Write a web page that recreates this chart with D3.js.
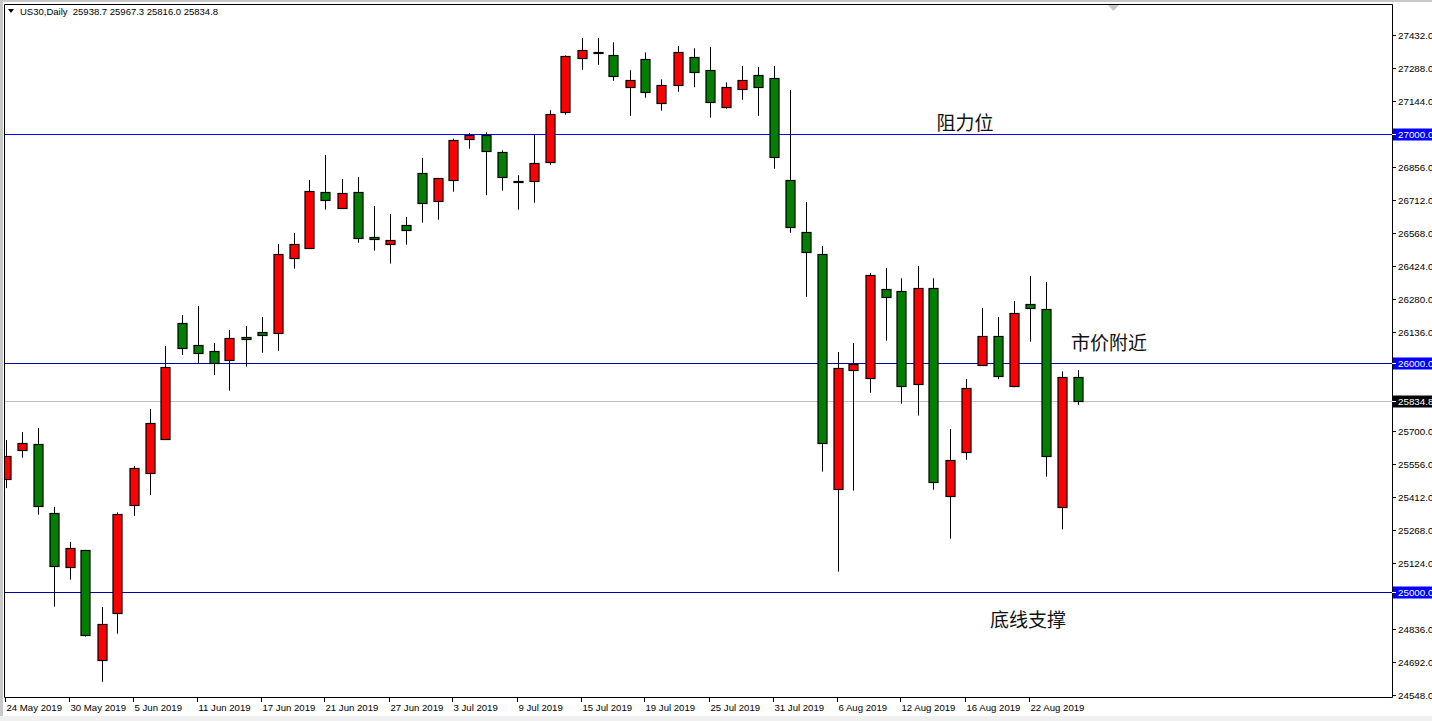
<!DOCTYPE html>
<html>
<head>
<meta charset="utf-8">
<script src="https://cdn.jsdelivr.net/npm/d3@7"></script>
<style>
  html, body { margin: 0; padding: 0; background: #ffffff; }
  svg { display: block; }
</style>
</head>
<body>
<svg id="chart" width="1432" height="721"></svg>
<script>
// ---- data ----
const dates = ["24 May","27 May","28 May","29 May","30 May","31 May","3 Jun","4 Jun","5 Jun","6 Jun","7 Jun","10 Jun","11 Jun","12 Jun","13 Jun","14 Jun","17 Jun","18 Jun","19 Jun","20 Jun","21 Jun","24 Jun","25 Jun","26 Jun","27 Jun","28 Jun","1 Jul","2 Jul","3 Jul","4 Jul","5 Jul","8 Jul","9 Jul","10 Jul","11 Jul","12 Jul","15 Jul","16 Jul","17 Jul","18 Jul","19 Jul","22 Jul","23 Jul","24 Jul","25 Jul","26 Jul","29 Jul","30 Jul","31 Jul","1 Aug","2 Aug","5 Aug","6 Aug","7 Aug","8 Aug","9 Aug","12 Aug","13 Aug","14 Aug","15 Aug","16 Aug","19 Aug","20 Aug","21 Aug","22 Aug","23 Aug","26 Aug","27 Aug"];
const opens  = [25490,25617,25644,25342,25106,25180,24700,24905,25377,25517,25668,26172,26076,26050,26010,26111,26133,26128,26456,26503,26745,26675,26745,26548,26517,26600,26828,26705,26797,26976,26995,26919,26796,26793,26876,27094,27330,27356,27343,27204,27326,27134,27212,27335,27278,27116,27195,27256,27243,26797,26570,26474,25447,25967,25932,26321,26312,25906,26325,25416,25609,25989,26115,25897,26255,26233,25368,25938.7];
const highs  = [25662,25697,25715,25370,25217,25182,24932,25346,25549,25798,26073,26208,26248,26086,26143,26160,26200,26519,26567,26798,26908,26803,26811,26685,26650,26637,26895,26807,26979,27004,27007,26928,26819,26996,27103,27343,27419,27419,27400,27278,27356,27238,27384,27374,27380,27225,27297,27292,27297,27192,26702,26510,26047,26086,26392,26414,26369,26423,26369,25710,25929,26239,26200,26270,26379,26353,25962,25967.3];
const lows   = [25452,25585,25336,24934,25052,24803,24606,24816,25331,25422,25662,26034,25997,25946,25878,25983,26044,26052,26411,26498,26669,26672,26524,26490,26433,26516,26612,26625,26747,26935,26732,26752,26669,26699,26865,27084,27280,27302,27232,27079,27158,27101,27184,27204,27071,27110,27149,27079,26848,26568,26288,25524,25087,25441,25869,26096,25821,25769,25445,25231,25576,25986,25928,25893,26092,25502,25272,25816.0];
const closes = [25591,25648,25373,25110,25189,24809,24857,25338,25539,25735,25980,26066,26044,25997,26107,26102,26120,26474,26517,26749,26710,26740,26544,26539,26535,26579,26697,26806,26972,26995,26924,26810,26794,26871,27085,27339,27365,27354,27252,27234,27182,27212,27356,27269,27138,27204,27234,27204,26898,26592,26482,25648,25976,25993,26382,26286,25897,26325,25477,25574,25888,26115,25941,26216,26238,25591,25936,25834.8];
const dateLabels = ["24 May 2019","30 May 2019","5 Jun 2019","11 Jun 2019","17 Jun 2019","21 Jun 2019","27 Jun 2019","3 Jul 2019","9 Jul 2019","15 Jul 2019","19 Jul 2019","25 Jul 2019","31 Jul 2019","6 Aug 2019","12 Aug 2019","16 Aug 2019","22 Aug 2019"];
const dateLabelIndex = [0,4,8,12,16,20,24,28,32,36,40,44,48,52,56,60,64];
const priceTicks = [27432,27288,27144,27000,26856,26712,26568,26424,26280,26136,25992,25848,25700,25556,25412,25268,25124,24980,24836,24692,24548];
const levels = [
  {value: 27000, label: "27000.0", color: "#0000ff"},
  {value: 26000, label: "26000.0", color: "#0000a8"},
  {value: 25000, label: "25000.0", color: "#0000a8"}
];
const lastPrice = 25834.8;
const notes = [
  {text: "阻力位", idx: 59.97, price: 27000, dy: -4},
  {text: "市价附近", idx: 68.97, price: 26000, dy: -13},
  {text: "底线支撑", idx: 63.9, price: 25000, dy: 35}
];
const header = "US30,Daily  25938.7 25967.3 25816.0 25834.8";
</script>
<script>
const candles = dates.map((d, i) => ({d, i, o: opens[i], h: highs[i], l: lows[i], c: closes[i]}));

const svg = d3.select("#chart");
const W = 1432, H = 721;
const L = 4, T = 4, R = 1392, B = 697;

const x = d3.scaleLinear().domain([0, 67]).range([5.5, 1077.5]);
const y = d3.scaleLinear().domain([24548, 27432]).range([695, 35]);
const py = v => Math.round(y(v)) + 0.5;

// background
svg.append("rect").attr("width", W).attr("height", H).attr("fill", "#ffffff");
svg.append("rect").attr("x", 0).attr("y", 0).attr("width", 3).attr("height", H).attr("fill", "#c8c8c8");
svg.append("rect").attr("x", 0).attr("y", 0).attr("width", W).attr("height", 2).attr("fill", "#c8c8c8");
svg.append("rect").attr("x", 0).attr("y", 716).attr("width", W).attr("height", 5).attr("fill", "#f0f0f0");

const defs = svg.append("defs");
defs.append("clipPath").attr("id", "plot").append("rect")
  .attr("x", L + 1).attr("y", T + 1).attr("width", R - L - 1).attr("height", B - T - 1);

// frame
svg.append("path").attr("d", `M${L+0.5},${T+0.5}H${R+0.5}V${B+0.5}H${L+0.5}Z`)
  .attr("fill", "none").attr("stroke", "#000").attr("stroke-width", 1);

const plot = svg.append("g").attr("clip-path", "url(#plot)");

// horizontal level lines
plot.append("line").attr("x1", L).attr("x2", R).attr("y1", py(lastPrice)).attr("y2", py(lastPrice))
  .attr("stroke", "#c0c0c0").attr("stroke-width", 1);
levels.forEach(lv => {
  plot.append("line").attr("x1", L).attr("x2", R).attr("y1", py(lv.value)).attr("y2", py(lv.value))
    .attr("stroke", lv.color).attr("stroke-width", 1);
});

// candles
const g = plot.selectAll("g.c").data(candles).join("g").attr("class", "c");
g.append("line")
  .attr("x1", d => Math.round(x(d.i)) + 0.5).attr("x2", d => Math.round(x(d.i)) + 0.5)
  .attr("y1", d => y(d.h)).attr("y2", d => y(d.l))
  .attr("stroke", "#000").attr("stroke-width", 1);
g.append("rect")
  .attr("x", d => Math.round(x(d.i)) - 4)
  .attr("width", 9)
  .attr("y", d => Math.round(y(Math.max(d.o, d.c))) + 0.5)
  .attr("height", d => Math.max(1, Math.round(y(Math.min(d.o, d.c))) - Math.round(y(Math.max(d.o, d.c)))))
  .attr("fill", d => d.c >= d.o ? "#ff0000" : "#008000")
  .attr("stroke", "#000").attr("stroke-width", 1.2);

// annotation texts
notes.forEach(n => {
  svg.append("text").attr("x", x(n.idx)).attr("y", y(n.price) + n.dy)
    .attr("text-anchor", "middle")
    .attr("font-family", "'Noto Sans CJK SC', sans-serif").attr("font-size", 19)
    .attr("fill", "#111").text(n.text);
});

// price axis
const axisFont = "'Liberation Sans', Arial, sans-serif";
const boxes = levels.map(l => l.value).concat([lastPrice]);
const pa = svg.append("g");
priceTicks.forEach(v => {
  const yy = py(v);
  pa.append("line").attr("x1", R).attr("x2", R + 4).attr("y1", yy).attr("y2", yy).attr("stroke", "#000");
  const hidden = boxes.some(b => Math.abs(py(b) - yy) < 11);
  if (!hidden) {
    pa.append("text").attr("x", 1398).attr("y", yy + 3.5).attr("font-family", axisFont)
      .attr("font-size", 9.8).attr("fill", "#000").text(v.toFixed(1));
  }
});
function boxLabel(v, txt, bg) {
  const yy = py(v);
  pa.append("rect").attr("x", R + 1).attr("y", yy - 6).attr("width", W - R - 1).attr("height", 12).attr("fill", bg);
  pa.append("line").attr("x1", R).attr("x2", R + 4).attr("y1", yy).attr("y2", yy).attr("stroke", "#fff");
  pa.append("text").attr("x", 1398).attr("y", yy + 3.5).attr("font-family", axisFont)
    .attr("font-size", 9.8).attr("fill", "#fff").text(txt);
}
levels.forEach(lv => boxLabel(lv.value, lv.label, "#0000ff"));
boxLabel(lastPrice, lastPrice.toFixed(1), "#000");

// date axis
const da = svg.append("g");
dateLabelIndex.forEach((idx, k) => {
  const xx = Math.round(x(idx)) - 0.5;
  da.append("line").attr("x1", xx).attr("x2", xx).attr("y1", B).attr("y2", B + 5).attr("stroke", "#000");
  da.append("text").attr("x", xx + 1).attr("y", 711).attr("font-family", axisFont)
    .attr("font-size", 9.6).attr("fill", "#000").text(dateLabels[k]);
});

// header
svg.append("path").attr("d", "M8,9L14,9L11,13Z").attr("fill", "#000");
svg.append("text").attr("x", 20).attr("y", 15).attr("font-family", axisFont)
  .attr("font-size", 9.5).attr("fill", "#000").attr("xml:space", "preserve").text(header);

// chart shift marker
svg.append("path").attr("d", "M1108,5L1119,5L1113.5,11Z").attr("fill", "#c8c8c8");
</script>
</body>
</html>
